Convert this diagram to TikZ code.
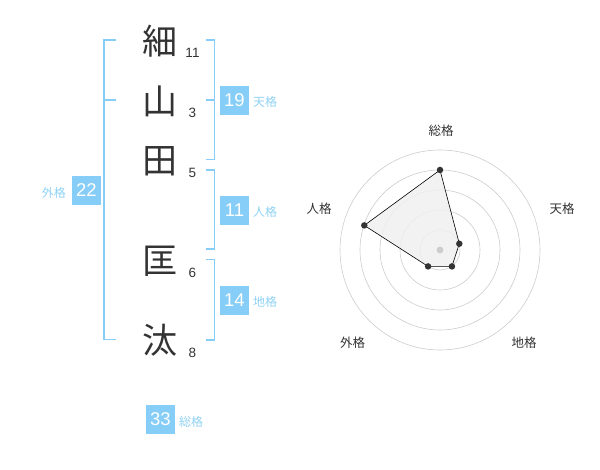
\documentclass[tikz,border=0pt]{standalone}
\usepackage{fontspec}
\setmainfont{Liberation Sans}
\newfontfamily\jp{Noto Sans CJK JP}
\definecolor{brk}{HTML}{86CDF7}
\definecolor{boxc}{HTML}{86CDF7}
\definecolor{lbl}{HTML}{8FD2F5}
\definecolor{ink}{HTML}{333333}
\definecolor{ring}{HTML}{CCCCCC}
\begin{document}
\begin{tikzpicture}[x=1pt,y=-1pt,
  kanji/.style={font=\jp\fontsize{35}{35}\selectfont, text=ink, inner sep=0pt},
  strokes/.style={font=\fontsize{13.5}{13.5}\selectfont, text=ink, inner sep=0pt},
  bracket/.style={draw=brk, line width=1.6pt},
  numbox/.style={fill=boxc, text=white, minimum width=29pt, minimum height=29pt, inner sep=0pt, font=\fontsize{18.5}{18.5}\selectfont},
  kaku/.style={font=\jp\fontsize{12}{12}\selectfont, text=lbl, inner sep=0pt},
  axis/.style={font=\jp\fontsize{12.5}{12.5}\selectfont, text=ink, inner sep=0pt},
  ringline/.style={draw=ring, line width=0.6pt},
  dot/.style={circle, fill=ink, inner sep=0pt, minimum size=6.5pt}
]
\useasboundingbox (0,0) rectangle (600,470);
% characters
\node[kanji] (c1) at (160,41) {細};
\node[kanji] (c2) at (160,101) {山};
\node[kanji] (c3) at (160,161) {田};
\node[kanji] (c4) at (160,261) {匡};
\node[kanji] (c5) at (160,340) {汰};
\node[strokes] (n1) at (192.5,53) {11};
\node[strokes] (n2) at (192.5,113) {3};
\node[strokes] (n3) at (192.5,172.5) {5};
\node[strokes] (n4) at (192.5,272.5) {6};
\node[strokes] (n5) at (192.5,352.5) {8};
% left bracket (外格)
\draw[bracket] (116,40) -- (104,40) -- (104,339.5) -- (116,339.5);
\draw[bracket] (104,100) -- (116,100);
% right brackets
\draw[bracket] (206,40) -- (214.3,40) -- (214.3,159.5) -- (206,159.5);
\draw[bracket] (214.3,100) -- (206,100);
\draw[bracket] (206,170) -- (214.3,170) -- (214.3,249.3) -- (206,249.3);
\draw[bracket] (206,259.5) -- (214.3,259.5) -- (214.3,340) -- (206,340);
% boxes
\node[numbox] (b19) at (234.5,100.5) {19};
\node[kaku, anchor=west] (l19) at (253,102) {天格};
\node[numbox] (b11) at (234.5,210.5) {11};
\node[kaku, anchor=west] (l11) at (253,212) {人格};
\node[numbox] (b14) at (234.5,300.5) {14};
\node[kaku, anchor=west] (l14) at (253,302) {地格};
\node[numbox] (b22) at (86.3,190.5) {22};
\node[kaku, anchor=east] (l22) at (66,192.5) {外格};
\node[numbox] (b33) at (160.5,419.5) {33};
\node[kaku, anchor=west] (l33) at (179,421.5) {総格};
% radar
\coordinate (o) at (440,250);
\foreach \r in {20,40,60,80,100} \draw[ringline] (o) circle[radius=\r];
\path (o) ++(0,-80) coordinate (p1);
\path (o) ++(-18:20.3) coordinate (p2);
\path (o) ++(54:20.3) coordinate (p3);
\path (o) ++(126:20.3) coordinate (p4);
\path (o) ++(198:79.6) coordinate (p5);
\filldraw[fill=gray!12, fill opacity=0.85, draw=black, line width=0.6pt] (p1) -- (p2) -- (p3) -- (p4) -- (p5) -- cycle;
\fill[ring] (o) circle[radius=3.4];
\foreach \p in {p1,p2,p3,p4,p5} \node[dot] at (\p) {};
\node[axis] (a1) at (441,130.5) {総格};
\node[axis] (a2) at (562,208.5) {天格};
\node[axis] (a3) at (524,342.5) {地格};
\node[axis] (a4) at (352.5,342.5) {外格};
\node[axis] (a5) at (319,209) {人格};
\end{tikzpicture}
\end{document}
